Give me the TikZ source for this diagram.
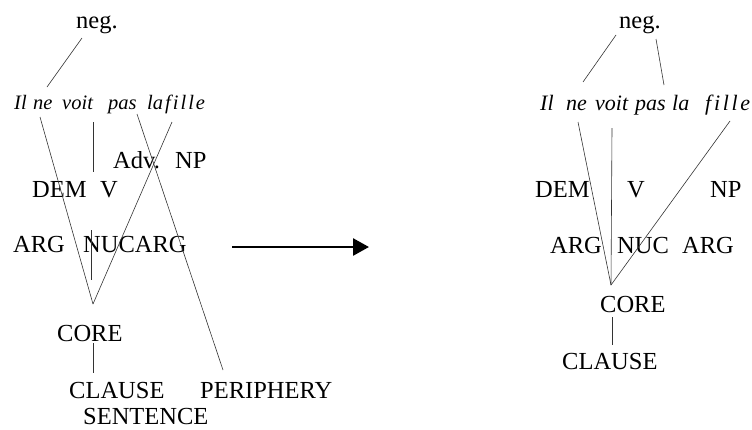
\documentclass[tikz,border=0pt]{standalone}
\usepackage{fontspec}
\setmainfont{Liberation Serif}
\usetikzlibrary{arrows.meta}
% letter-spaced word, set without ligatures
\newcommand{\spaced}[2]{\def\sp{\kern#1}f\sp i\sp l\sp l\sp #2}
\begin{document}
\begin{tikzpicture}[x=1pt,y=-1pt,
  lbl/.style={anchor=base west, inner sep=0pt, font=\fontsize{24.5}{24.5}\selectfont},
  wrd/.style={anchor=base west, inner sep=0pt, font=\fontsize{20.5}{20.5}\selectfont\itshape},
  wrdR/.style={anchor=base west, inner sep=0pt, font=\fontsize{22}{22}\selectfont\itshape},
  link/.style={line width=0.6pt, black!80},
  bigarrow/.style={line width=2.6pt, -{Triangle[length=16pt,width=17pt]}}]
\useasboundingbox (0,0) rectangle (752,429);

% ---------- left structure ----------
\node[lbl] (negL) at (76,28) {neg.};
\node[wrd] (IlL)   at (14,109) {Il};
\node[wrd] (neL)   at (33,109) {ne};
\node[wrd] (voitL) at (62,109) {voit};
\node[wrd] (pasL)  at (108,109) {pas};
\node[wrd] (laL)   at (147,109) {la};
\node[wrd] (filleL) at (165,109) {\spaced{2pt}{e}};
\node[lbl] (advL) at (113,168) {Adv.};
\node[lbl] (npL)  at (175,168) {NP};
\node[lbl] (demL) at (32,197) {DEM};
\node[lbl] (vL)   at (100,197) {V};
\node[lbl] (argL)  at (13,252) {ARG};
\node[lbl] (nucL)  at (83,252) {NUCARG};
\node[lbl] (coreL) at (57,341) {CORE};
\node[lbl] (clauseL) at (69,398) {CLAUSE};
\node[lbl] (periL)   at (200,398) {PERIPHERY};
\node[lbl] (sentL)   at (83,424.5) {SENTENCE};

\coordinate (negLa) at (82,38);
\coordinate (neLt) at (47,87);
\coordinate (neLb) at (40,117);
\coordinate (voitLb) at (93,122);
\coordinate (vLt) at (93,172);
\coordinate (nucLt) at (91,230);
\coordinate (nucLb) at (91,280);
\coordinate (pasLb) at (137,114);
\coordinate (periLt) at (223,370);
\coordinate (filleLb) at (172,122);
\coordinate (apexL) at (93,304);
\coordinate (coreLb) at (93,343);
\coordinate (clauseLt) at (93,373);

\draw[link] (negLa) -- (neLt);
\draw[link] (neLb) -- (apexL);
\draw[link] (filleLb) -- (apexL);
\draw[link] (voitLb) -- (vLt);
\draw[link] (nucLt) -- (nucLb);
\draw[link] (pasLb) -- (periLt);
\draw[link] (coreLb) -- (clauseLt);

% ---------- transformation arrow ----------
\coordinate (arrS) at (232,247);
\coordinate (arrE) at (369,247);
\draw[bigarrow] (arrS) -- (arrE);

% ---------- right structure ----------
\node[lbl] (negR) at (619,28) {neg.};
\node[wrdR] (IlR)   at (540,110) {Il};
\node[wrdR] (neR)   at (566,110) {ne};
\node[wrdR] (voitR) at (595,110) {voit};
\node[wrdR] (pasR)  at (635,110) {pas};
\node[wrdR] (laR)   at (672,110) {la};
\node[wrdR] (filleR) at (705,110) {\spaced{2.7pt}{e}};
\node[lbl] (demR) at (535,197) {DEM};
\node[lbl] (vR)   at (627,197) {V};
\node[lbl] (npR)  at (710,197) {NP};
\node[lbl] (argR1) at (550,253) {ARG};
\node[lbl] (nucR)  at (617,253) {NUC};
\node[lbl] (argR2) at (682,253) {ARG};
\node[lbl] (coreR) at (600,312) {CORE};
\node[lbl] (clauseR) at (562,369) {CLAUSE};

\coordinate (negRa) at (616,35);
\coordinate (neRt) at (583,82);
\coordinate (negRb) at (656,39);
\coordinate (pasRt) at (664,85);
\coordinate (neRb) at (578,122);
\coordinate (voitRb) at (612,128);
\coordinate (filleRb) at (730,121);
\coordinate (apexR) at (611,285);
\coordinate (coreRb) at (612,317);
\coordinate (clauseRt) at (612,345);

\draw[link] (negRa) -- (neRt);
\draw[link] (negRb) -- (pasRt);
\draw[link] (neRb) -- (apexR);
\draw[link] (voitRb) -- (apexR);
\draw[link] (filleRb) -- (apexR);
\draw[link] (coreRb) -- (clauseRt);
\end{tikzpicture}
\end{document}
